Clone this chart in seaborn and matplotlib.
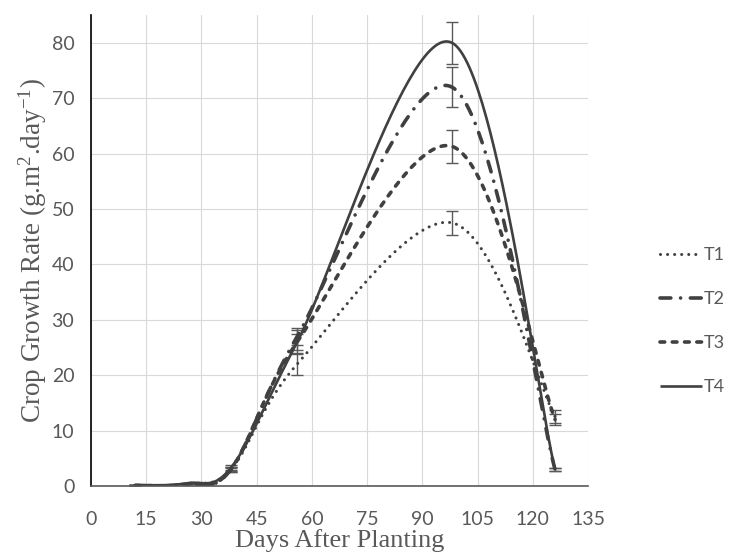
import numpy as np
import pandas as pd
import matplotlib
matplotlib.use("Agg")
import matplotlib.pyplot as plt
import seaborn as sns

# datos (dias despues de la siembra)
days = [12, 26, 38, 56, 98, 126]
t1 = [0.1, 0.4, 3.0, 22.0, 47.5, 12.5]
t2 = [0.1, 0.3, 3.0, 27.0, 72.0, 3.0]
t3 = [0.1, 0.3, 3.0, 26.0, 61.3, 12.0]
t4 = [0.1, 0.5, 3.3, 26.0, 80.0, 3.0]
# barras de error
e1 = [0.0, 0.0, 0.4, 2.0, 2.2, 1.2]
e2 = [0.0, 0.0, 0.4, 1.5, 3.6, 0.3]
e3 = [0.0, 0.0, 0.3, 1.5, 3.0, 1.0]
e4 = [0.0, 0.0, 0.5, 2.2, 3.8, 0.3]
names = ["T1", "T2", "T3", "T4"]
x_ticks = list(range(0, 136, 15))
y_ticks = list(range(0, 81, 10))


def excel_smooth(xs, ys, n=60):
    # curva suavizada tipo Excel (Bezier con puntos de control a 1/6)
    P = np.column_stack([xs, ys]).astype(float)
    P = np.vstack([P[0], P, P[-1]])
    out = []
    t = np.linspace(0, 1, n)[:, None]
    for i in range(1, len(P) - 2):
        p0, p1 = P[i], P[i + 1]
        c1 = p0 + (P[i + 1] - P[i - 1]) / 6
        c2 = p1 - (P[i + 2] - P[i]) / 6
        seg = ((1 - t) ** 3) * p0 + 3 * ((1 - t) ** 2) * t * c1 + 3 * (1 - t) * t ** 2 * c2 + t ** 3 * p1
        out.append(seg if i == 1 else seg[1:])
    seg = np.vstack(out)
    return seg[:, 0], seg[:, 1]


sns.set_style("whitegrid")
plt.rcParams["font.family"] = ["Lato", "DejaVu Sans"]
plt.rcParams["mathtext.fontset"] = "custom"
plt.rcParams["mathtext.rm"] = "Liberation Serif"
plt.rcParams["mathtext.it"] = "Liberation Serif:italic"

fig = plt.figure(figsize=(7.37, 5.59), dpi=100)
ax = fig.add_axes([0.1235, 0.1306, 0.6745, 0.8425])

col = "#404040"
estilos = {
    "T1": dict(lw=2.2, ls=(0, (0.01, 2.3))),
    "T2": dict(lw=2.6, ls=(0, (3.0, 2.7, 0.01, 2.7))),
    "T3": dict(lw=2.6, ls=(0, (1.3, 2.1))),
    "T4": dict(lw=1.9, ls="-"),
}

series = [t1, t2, t3, t4]
errores = [e1, e2, e3, e4]
for nombre, ys, err in zip(names, series, errores):
    sx, sy = excel_smooth(days, ys)
    df = pd.DataFrame({"dia": sx, "valor": sy})
    sns.lineplot(data=df, x="dia", y="valor", ax=ax, color=col, label=nombre,
                 sort=False, dash_capstyle="round", solid_capstyle="butt",
                 **estilos[nombre])
    ax.errorbar(days, ys, yerr=err, fmt="none", ecolor="#595959",
                elinewidth=1.0, capsize=4.5, capthick=1.0, zorder=1)

ax.set_xlim(0, 135)
ax.set_ylim(0, 85)
ax.set_xticks(x_ticks)
ax.set_yticks(y_ticks)
ax.grid(True, color="#d9d9d9", lw=0.8)
for s in ["top", "right"]:
    ax.spines[s].set_visible(False)
ax.spines["left"].set_color("black")
ax.spines["left"].set_linewidth(1.2)
ax.spines["bottom"].set_color("#595959")
ax.spines["bottom"].set_linewidth(1.2)
ax.tick_params(axis="both", direction="out", width=1, colors="#595959", labelsize=14)
ax.tick_params(axis="y", length=5, pad=7)
ax.tick_params(axis="x", length=6, pad=12)

ax.set_xlabel("Days After Planting", fontfamily="Liberation Serif", fontsize=19,
              color="#595959", labelpad=1)
ax.set_ylabel(r"Crop Growth Rate (g.m$^{2}$.day$^{\mathregular{-1}}$)",
              fontfamily="Liberation Serif", fontsize=19.5, color="#595959", labelpad=2)

leg = ax.legend(loc="center left", bbox_to_anchor=(0.874, 0.426),
                bbox_transform=fig.transFigure, frameon=False,
                handlelength=2.3, handletextpad=0.1, labelspacing=1.55, fontsize=13)
for t in leg.get_texts():
    t.set_color("#595959")

plt.savefig("out.png", dpi=100)
